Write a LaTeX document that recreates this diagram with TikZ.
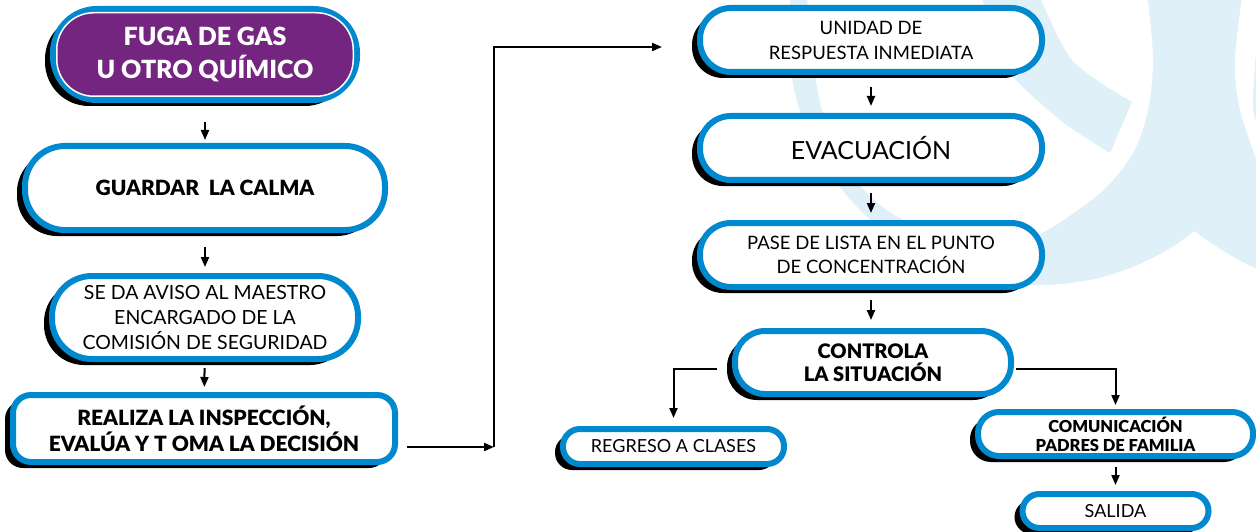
\documentclass[tikz,border=0pt]{standalone}
\usepackage{fontspec}
\setmainfont{Lato}[BoldFont={Lato Black}]
\usetikzlibrary{arrows.meta,shadows}

\definecolor{boxblue}{RGB}{0,137,207}
\definecolor{fugapurple}{RGB}{116,37,127}
\definecolor{logoblue}{RGB}{223,240,249}

\tikzset{
	box/.style={draw=boxblue, line width=6pt, fill=white, align=center, inner sep=0pt,
		drop shadow={shadow xshift=-8pt, shadow yshift=-6pt, fill=black, opacity=1}},
	arr/.style={line width=2pt, -{Triangle[length=10pt,width=8pt]}},
}

\begin{document}
\begin{tikzpicture}[x=1pt, y=-1pt]
			
			% Page and the light logo in the background
			\fill[white] (0,0) rectangle (1256,532);
			\useasboundingbox (0,0) rectangle (1256,532);
			\begin{scope}
				\clip (0,0) rectangle (1256,532);
				\fill[logoblue] (1039,34) circle [radius=251pt];
				\fill[logoblue] (1390,-20) circle [radius=318pt];
				\fill[white] plot[smooth] coordinates {(807,-10) (810,40) (822,110) (845,165) (880,205) (930,232) (990,246) (1040,234) (1100,193) (1133,153) (1148,110) (1153,60) (1148,0) (1146,-10)} -- cycle;
				\fill[logoblue] plot[smooth] coordinates {(980,-10) (992,30) (1010,73) (1060,120) (1110,153)} -- plot[smooth] coordinates {(1132,102) (1072,60) (1037,-10)} -- cycle;
				\fill[white] plot[smooth] coordinates {(1243,-10) (1235,60) (1240,110) (1262,175)} -- plot[smooth] coordinates {(1262,140) (1253,105) (1258,30) (1262,-10)} -- cycle;
			\end{scope}
			
			% Left column
			\node[box, fill=fugapurple, text=white, minimum width=304pt, minimum height=91pt, rounded corners=44pt, font=\fontsize{25}{33}\selectfont\bfseries] (fuga) at (205,54.5) {FUGA DE GAS\\U OTRO QUÍMICO};
			\draw[white, line width=1.5pt, rounded corners=37pt] ([shift={(6.75,6.75)}]fuga.north west) rectangle ([shift={(-6.75,-6.75)}]fuga.south east);
			\node[box, minimum width=360pt, minimum height=84pt, rounded corners=40pt, font=\fontsize{21}{26}\selectfont\bfseries] (guardar) at (205,188) {GUARDAR~ LA CALMA};
			\node[box, minimum width=306pt, minimum height=83pt, rounded corners=40pt, font=\fontsize{19.5}{25}\selectfont] (aviso) at (205,317.5) {SE DA AVISO AL MAESTRO\\ENCARGADO DE LA\\COMISIÓN DE SEGURIDAD};
			\node[box, minimum width=382pt, minimum height=67pt, rounded corners=18pt, font=\fontsize{21}{26}\selectfont\bfseries] (realiza) at (204,428.5) {REALIZA LA INSPECCIÓN,\\EVALÚA Y T OMA LA DECISIÓN};
			
			% Right column
			\node[box, minimum width=342pt, minimum height=64pt, rounded corners=31pt, font=\fontsize{18.5}{25}\selectfont] (unidad) at (871,40) {UNIDAD DE\\RESPUESTA INMEDIATA};
			\node[box, minimum width=342pt, minimum height=64pt, rounded corners=31pt, font=\fontsize{25}{30}\selectfont] (evacuacion) at (871,148) {EVACUACIÓN};
			\node[box, minimum width=342pt, minimum height=64pt, rounded corners=31pt, font=\fontsize{18.5}{24}\selectfont] (pase) at (871,255) {PASE DE LISTA EN EL PUNTO\\DE CONCENTRACIÓN};
			\node[box, minimum width=276pt, minimum height=63pt, rounded corners=30pt, font=\fontsize{20}{23}\selectfont\bfseries] (controla) at (873,362.5) {CONTROLA\\LA SITUACIÓN};
			\node[box, minimum width=221pt, minimum height=35pt, rounded corners=17pt, font=\fontsize{18}{22}\selectfont] (regreso) at (673.5,446.5) {REGRESO A CLASES};
			\node[box, minimum width=275pt, minimum height=44pt, rounded corners=21pt, font=\fontsize{16.5}{19}\selectfont\bfseries] (comunicacion) at (1115.5,434) {COMUNICACIÓN\\PADRES DE FAMILIA};
			\node[box, minimum width=186pt, minimum height=34pt, rounded corners=17pt, font=\fontsize{18}{22}\selectfont] (salida) at (1115.5,511) {SALIDA};
			
			% Arrows down the left column
			\draw[arr, shorten <=19pt, shorten >=3pt] (fuga) -- (guardar);
			\draw[arr, shorten <=14pt, shorten >=6pt] (guardar) -- (aviso);
			\draw[arr, shorten <=6pt, shorten >=5pt] (aviso) -- (realiza);
			
			% Link over to the right column
			\coordinate (bend) at (494,447);
			\draw[arr, shorten <=9pt] (realiza.east |- bend) -- (bend);
			\draw[arr, shorten >=35pt] (bend) |- ([yshift=-7pt]unidad.west);
			
			% Arrows down the right column
			\draw[arr, shorten <=12pt, shorten >=7pt] (unidad) -- (evacuacion);
			\draw[arr, shorten <=10pt, shorten >=7pt] (evacuacion) -- (pase);
			\draw[arr, shorten <=10pt, shorten >=8pt] (pase.south) -- (pase.south |- controla.north);
			
			% Branches
			\draw[arr, shorten <=15pt, shorten >=8pt] ([yshift=-6pt]controla.west) -| (regreso.north);
			\draw[arr, shorten <=2pt, shorten >=4pt] ([yshift=-6pt]controla.east) -| (comunicacion.north);
			\draw[arr, shorten <=8pt, shorten >=6pt] (comunicacion) -- (salida);
			
		\end{tikzpicture}
\end{document}
